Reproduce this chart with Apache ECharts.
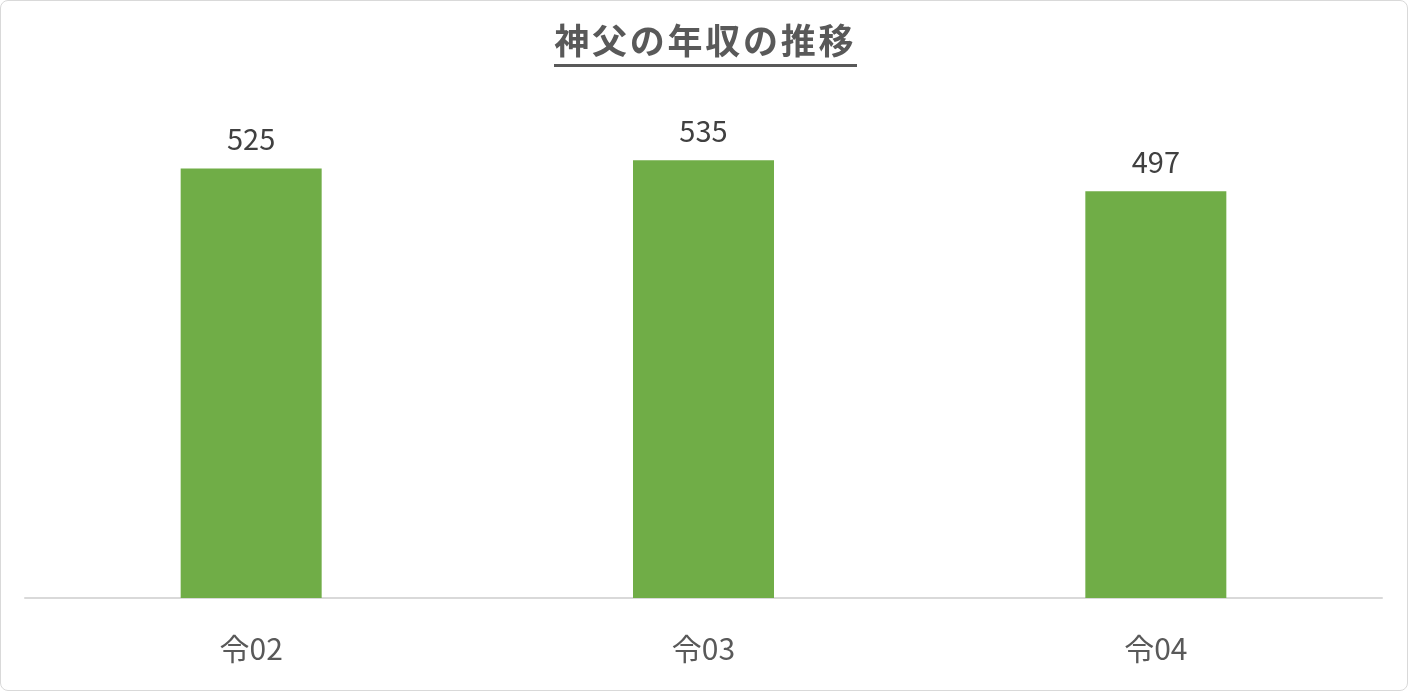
<!DOCTYPE html>
<html lang="ja">
<head>
<meta charset="utf-8">
<title>神父の年収の推移</title>
<style>
  html, body { margin: 0; padding: 0; background: #fff; }
  #chart { width: 1408px; height: 691px; box-sizing: border-box; border: 1px solid #d9d9d9; border-radius: 8px; }
</style>
</head>
<body>
<div id="chart"></div>
<script src="https://cdn.jsdelivr.net/npm/echarts@6/dist/echarts.min.js"></script>
<script>
// 年度と年収（万円）
var years = ['令02', '令03', '令04'];
var income = [525, 535, 497];
var titleText = '神父の年収の推移';

var myChart = echarts.init(document.getElementById('chart'));
var font = '"Noto Sans CJK JP", "Noto Sans", sans-serif';

// 一文字ずつ幅を取って字間を広げる
var titleRich = titleText.split('').map(function (c) { return '{c|' + c + '}'; }).join('');

var option = {
    animation: false,
    title: {
        text: titleRich,
        left: 'center',
        top: 17,
        textStyle: {
            rich: {
                c: {
                    fontFamily: font,
                    fontSize: 35,
                    fontWeight: 'bold',
                    color: '#595959',
                    width: 37.75,
                    align: 'center'
                }
            }
        }
    },
    // タイトルの下線
    graphic: [{
        type: 'rect',
        shape: { x: 553, y: 63, width: 303, height: 3 },
        style: { fill: '#595959' }
    }],
    grid: { left: 24, right: 25, top: 106, bottom: 92 },
    xAxis: {
        type: 'category',
        data: years,
        axisLine: { lineStyle: { color: '#d9d9d9', width: 2 } },
        axisTick: { show: false },
        axisLabel: {
            margin: 36,
            fontFamily: font,
            fontSize: 30,
            color: '#595959'
        }
    },
    yAxis: {
        type: 'value',
        min: 0,
        max: 600,
        show: false,
        splitLine: { show: false }
    },
    series: [{
        type: 'bar',
        data: income,
        barWidth: 141,
        itemStyle: { color: '#70ad47' },
        label: {
            show: true,
            position: 'top',
            distance: 15,
            fontFamily: font,
            fontSize: 29,
            color: '#404040'
        }
    }]
};
myChart.setOption(option);
</script>
</body>
</html>
